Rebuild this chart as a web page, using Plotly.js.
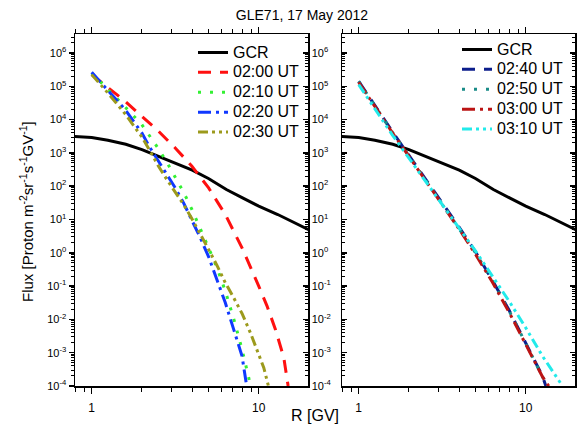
<!DOCTYPE html>
<html>
<head>
<meta charset="utf-8">
<script src="https://cdn.plot.ly/plotly-3.0.1.min.js"></script>
<style>html,body{margin:0;padding:0;background:#fff;}#chart{width:577px;height:434px;}</style>
</head>
<body>
<div id="chart"></div>
<script>
// ---- data (R in GV, flux in proton m^-2 sr^-1 s^-1 GV^-1) ----
const gcrR    = [0.79, 1.0, 1.25, 1.6, 2.0, 2.5, 3.2, 4.0, 5.0, 6.4, 8.0, 10, 13, 16, 20];
const gcrFlux = [3090, 2884, 2399, 1820, 1259, 794, 501, 302, 170, 79.4, 44.7, 25.1, 14.1, 8.51, 4.90];

const t0200R    = [1, 1.259, 1.585, 1.995, 2.512, 3.162, 3.981, 5.012, 6.31, 7.943, 8.913, 10, 11.22, 12.59, 14.13, 15.0];
const t0200Flux = [2.24e5, 8.91e4, 3.55e4, 1.26e4, 4.47e3, 1.41e3, 398, 89.1, 14.1, 1.41, 0.398, 0.1, 0.0251, 5.01e-3, 7.08e-4, 1e-4];

const t0210R    = [1, 1.259, 1.585, 1.995, 2.239, 2.512, 2.818, 3.162, 3.548, 3.981, 4.467, 5.012, 5.623, 6.31, 7.079, 7.943, 8.71, 8.913];
const t0210Flux = [2.51e5, 7.94e4, 2.40e4, 7.08e3, 3.16e3, 1.32e3, 525, 191, 66.1, 19.95, 5.62, 1.41, 0.355, 0.0708, 0.0105, 1.26e-3, 1.78e-4, 1e-4];

const t0220R    = [1, 1.259, 1.585, 1.995, 2.239, 2.512, 2.818, 3.162, 3.548, 3.981, 4.467, 5.012, 5.623, 6.31, 7.079, 7.943, 8.47];
const t0220Flux = [2.63e5, 7.08e4, 2.0e4, 3.98e3, 1.41e3, 562, 224, 89.1, 31.6, 9.55, 2.82, 0.759, 0.158, 0.0316, 5.01e-3, 7.94e-4, 1e-4];

const t0230R    = [1, 1.259, 1.585, 1.995, 2.239, 2.512, 2.818, 3.162, 3.548, 3.981, 4.467, 5.012, 5.623, 6.31, 7.079, 7.943, 8.913, 10, 10.72, 11.43];
const t0230Flux = [2.24e5, 6.03e4, 1.48e4, 3.02e3, 1.12e3, 398, 158, 67.6, 28.2, 10.5, 3.80, 1.26, 0.417, 0.126, 0.0447, 0.0151, 3.98e-3, 8.91e-4, 3.55e-4, 1e-4];

const t0240R    = [1, 1.259, 1.585, 1.995, 2.512, 3.162, 3.981, 5.012, 6.31, 7.943, 10, 11.22, 12.59, 13.2];
const t0240Flux = [1.41e5, 2.40e4, 4.47e3, 851, 166, 31.6, 6.03, 1.05, 0.151, 0.0191, 2.0e-3, 6.31e-4, 2.0e-4, 1e-4];

const t0250R    = [1, 1.259, 1.585, 1.995, 2.512, 3.162, 3.981, 5.012, 6.31, 7.943, 10, 11.22, 12.59, 13.43];
const t0250Flux = [1.41e5, 2.34e4, 4.27e3, 832, 158, 30.2, 5.75, 1.0, 0.145, 0.0182, 1.91e-3, 6.03e-4, 1.91e-4, 1e-4];

const t0300R    = [1, 1.259, 1.585, 1.995, 2.512, 3.162, 3.981, 5.012, 6.31, 7.943, 10, 11.22, 12.59, 13.74];
const t0300Flux = [1.32e5, 2.24e4, 4.17e3, 794, 151, 28.2, 5.25, 0.891, 0.132, 0.0166, 1.78e-3, 5.62e-4, 1.91e-4, 1e-4];

const t0310R    = [1, 1.259, 1.585, 1.995, 2.512, 3.162, 3.981, 5.012, 6.31, 7.943, 10, 12.59, 16.6];
const t0310Flux = [1.12e5, 2.0e4, 3.55e3, 708, 141, 28.2, 5.62, 1.12, 0.2, 0.0355, 5.62e-3, 7.94e-4, 1e-4];

const seriesNames = ['GCR', '02:00 UT', '02:10 UT', '02:20 UT', '02:30 UT', '02:40 UT', '02:50 UT', '03:00 UT', '03:10 UT'];

const xTickVals = [1, 10];
const xTickText = ['1', '10'];
const yTickVals = [1e-4, 1e-3, 1e-2, 1e-1, 1e0, 1e1, 1e2, 1e3, 1e4, 1e5, 1e6];
const yTickText = ['10<sup>-4</sup>', '10<sup>-3</sup>', '10<sup>-2</sup>', '10<sup>-1</sup>', '10<sup>0</sup>',
                   '10<sup>1</sup>', '10<sup>2</sup>', '10<sup>3</sup>', '10<sup>4</sup>', '10<sup>5</sup>', '10<sup>6</sup>'];

// ---- minor tick positions ----
const xMinor = [0.8, 0.9, 2, 3, 4, 5, 6, 7, 8, 9, 20];
const yMinor = [];
for (let e = -4; e <= 6; e++) for (let m = 2; m <= 9; m++) yMinor.push(m * Math.pow(10, e));

const FONT = 'Liberation Sans, Arial, sans-serif';
const big = s => '<span style="font-size:16px">' + s + '</span>';

function tr(x, y, name, color, dash, xa, ya, leg, w) {
  return {x: x, y: y, name: big(name), type: 'scatter', mode: 'lines', xaxis: xa, yaxis: ya, legend: leg,
          line: {color: color, width: w || 3, dash: dash}};
}

const data = [
  tr(gcrR, gcrFlux, seriesNames[0], '#000000', 'solid', 'x', 'y', 'legend', 3),
  tr(t0200R, t0200Flux, seriesNames[1], '#ff1010', '13px,9px', 'x', 'y', 'legend'),
  tr(t0210R, t0210Flux, seriesNames[2], '#33f033', '3px,9px', 'x', 'y', 'legend'),
  tr(t0220R, t0220Flux, seriesNames[3], '#1038ff', '13px,5px,3px,5px', 'x', 'y', 'legend'),
  tr(t0230R, t0230Flux, seriesNames[4], '#9c9a1c', '10px,4px,3px,4px,3px,4px', 'x', 'y', 'legend'),
  tr(gcrR, gcrFlux, seriesNames[0], '#000000', 'solid', 'x2', 'y2', 'legend2', 3),
  tr(t0240R, t0240Flux, seriesNames[5], '#0c1e8c', '13px,9px', 'x2', 'y2', 'legend2'),
  tr(t0250R, t0250Flux, seriesNames[6], '#1a8c88', '3px,9px', 'x2', 'y2', 'legend2'),
  tr(t0300R, t0300Flux, seriesNames[7], '#bb1414', '13px,5px,3px,5px', 'x2', 'y2', 'legend2'),
  tr(t0310R, t0310Flux, seriesNames[8], '#22eaea', '10px,4px,3px,4px,3px,4px', 'x2', 'y2', 'legend2')
];

const W = 577, H = 434;
const xd1 = [75 / W, 308 / W], xd2 = [342 / W, 575 / W];
const yd = [1 - 386 / H, 1 - 34 / H];
const yRange = [-4, 6.57], xRange = [-0.1, 1.295];

function xAxis(domain, anchor) {
  return {domain: domain, anchor: anchor, type: 'log', range: xRange, tickmode: 'array',
          tickvals: xTickVals, ticktext: xTickText, ticks: 'outside', ticklen: 6, tickwidth: 1.5,
          tickcolor: '#000', showline: true, linecolor: '#000', linewidth: 1.5, mirror: 'ticks',
          showgrid: false, zeroline: false, ticklabelstandoff: 4,
          tickfont: {size: 12, color: '#000', family: FONT},
          minor: {tickmode: 'array', tickvals: xMinor, ticks: 'outside', ticklen: 4, tickwidth: 1,
                  tickcolor: '#000', showgrid: false}};
}
function yAxis(extra) {
  return Object.assign({type: 'log', range: yRange, tickmode: 'array', tickvals: yTickVals,
          ticktext: yTickText, ticklen: 5, tickwidth: 1.5, tickcolor: '#000', showline: true,
          linecolor: '#000', linewidth: 1.5, showgrid: false, zeroline: false,
          tickfont: {size: 11, color: '#000', family: FONT},
          minor: {tickmode: 'array', tickvals: yMinor, ticklen: 3, tickwidth: 1, tickcolor: '#000', showgrid: false}}, extra);
}

const yLeft = yAxis({domain: yd, anchor: 'x', ticks: 'outside', mirror: false});
yLeft.minor.ticks = 'outside';
const yLeftR = yAxis({overlaying: 'y', side: 'right', anchor: 'x', ticks: 'inside'});
yLeftR.minor.ticks = 'inside';
const yRight = yAxis({domain: yd, anchor: 'x2', ticks: 'inside', mirror: 'ticks', showticklabels: false});
yRight.minor.ticks = 'inside';

const legendBase = {bgcolor: 'rgba(0,0,0,0)', borderwidth: 0, font: {size: 13, color: '#000', family: FONT},
                    xanchor: 'left', yanchor: 'top', tracegroupgap: 0};

const layout = {
  width: W, height: H,
  margin: {l: 0, r: 0, t: 0, b: 0},
  paper_bgcolor: '#fff', plot_bgcolor: '#fff',
  font: {family: FONT, color: '#000'},
  title: {text: 'GLE71, 17 May 2012', x: 302 / W, y: 1 - 15 / H, xanchor: 'center', yanchor: 'middle',
          xref: 'paper', yref: 'paper', font: {size: 14, color: '#000', family: FONT}},
  xaxis: xAxis(xd1, 'y'),
  xaxis2: xAxis(xd2, 'y2'),
  yaxis: yLeft,
  yaxis3: yLeftR,
  yaxis2: yRight,
  legend: Object.assign({x: 193 / W, y: 1 - 37.5 / H}, legendBase),
  legend2: Object.assign({x: 457 / W, y: 1 - 34.5 / H}, legendBase),
  annotations: [
    {text: 'R [GV]', xref: 'paper', yref: 'paper', x: 315 / W, y: 1 - 415 / H, showarrow: false,
     xanchor: 'center', yanchor: 'middle', font: {size: 16, color: '#000', family: FONT}},
    {text: 'Flux [Proton m<sup>-2</sup>sr<sup>-1</sup>s<sup>-1</sup>GV<sup>-1</sup>]', xref: 'paper', yref: 'paper',
     x: 26 / W, y: 1 - 212 / H, textangle: -90, showarrow: false, xanchor: 'center', yanchor: 'middle',
     font: {size: 15, color: '#000', family: FONT}}
  ],
  showlegend: true
};

// yaxis3 needs a trace to be drawn: an invisible helper sharing the GCR data
data.push({x: gcrR, y: gcrFlux, type: 'scatter', mode: 'lines', xaxis: 'x', yaxis: 'y3',
           line: {width: 0, color: 'rgba(0,0,0,0)'}, showlegend: false, hoverinfo: 'skip'});

Plotly.newPlot('chart', data, layout, {staticPlot: true, displayModeBar: false});
</script>
</body>
</html>
